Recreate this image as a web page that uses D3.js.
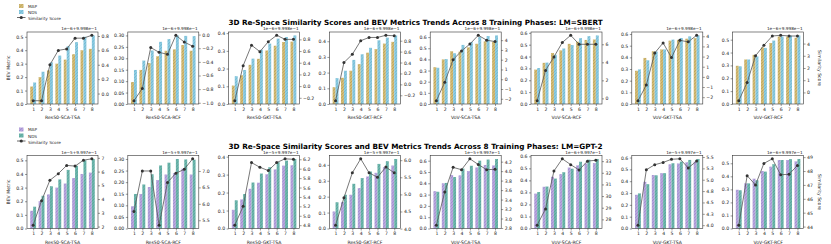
<!DOCTYPE html>
<html>
<head>
<meta charset="utf-8">
<script src="https://cdn.jsdelivr.net/npm/d3@7"></script>
<style>
  body { margin: 0; background: #fff; }
  svg { display: block; font-family: "DejaVu Sans", sans-serif; }
</style>
</head>
<body>
<svg id="chart" width="831" height="244"></svg>
<script>
// training phases on the x axis
const phases = [1, 2, 3, 4, 5, 6, 7, 8];
const configs = ["Res50-SCA-TSA", "Res50-SCA-RCF", "Res50-GKT-TSA", "Res50-GKT-RCF",
                 "VoV-SCA-TSA", "VoV-SCA-RCF", "VoV-GKT-TSA", "VoV-GKT-RCF"];

// BEV metrics, one row per config (same for both LMs)
const mapScores = [
  [0.13, 0.20, 0.25, 0.30, 0.33, 0.37, 0.40, 0.41],
  [0.096, 0.149, 0.179, 0.209, 0.233, 0.239, 0.258, 0.233],
  [0.104, 0.162, 0.221, 0.255, 0.302, 0.329, 0.35, 0.352],
  [0.107, 0.167, 0.212, 0.254, 0.327, 0.35, 0.385, 0.396],
  [0.33, 0.40, 0.473, 0.47, 0.508, 0.54, 0.562, 0.558],
  [0.29, 0.347, 0.43, 0.452, 0.507, 0.525, 0.54, 0.544],
  [0.285, 0.395, 0.452, 0.468, 0.543, 0.55, 0.56, 0.565],
  [0.297, 0.346, 0.382, 0.44, 0.474, 0.525, 0.525, 0.515]
];
const ndsScores = [
  [0.16, 0.24, 0.31, 0.36, 0.43, 0.46, 0.50, 0.51],
  [0.149, 0.19, 0.234, 0.272, 0.284, 0.30, 0.298, 0.297],
  [0.157, 0.192, 0.256, 0.306, 0.341, 0.369, 0.378, 0.387],
  [0.165, 0.212, 0.281, 0.317, 0.358, 0.406, 0.423, 0.437],
  [0.325, 0.403, 0.455, 0.53, 0.555, 0.60, 0.61, 0.615],
  [0.303, 0.349, 0.415, 0.468, 0.497, 0.555, 0.572, 0.578],
  [0.297, 0.375, 0.45, 0.468, 0.552, 0.566, 0.58, 0.588],
  [0.293, 0.346, 0.37, 0.436, 0.493, 0.525, 0.532, 0.533]
];

// similarity scores, shown relative to the axis offset
const simSbert = [
  [-0.10, -0.10, 0.40, 0.60, 0.62, 0.77, 0.77, 0.81],
  [-0.97, -0.79, -0.19, -0.26, -0.29, -0.01, -0.11, -0.17],
  [-0.25, 0.35, 0.70, 0.59, 0.76, 0.87, 0.80, 0.80],
  [-0.30, 0.40, 0.55, 0.80, 0.86, 0.86, 0.90, 0.89],
  [-2.2, -0.3, 2.0, 2.9, 3.6, 4.5, 4.0, 3.85],
  [-0.26, 3.1, 4.6, 6.2, 7.0, 6.0, 6.0, 6.0],
  [-2.35, -0.8, 2.35, 3.35, 1.9, 3.6, 3.45, 4.1],
  [-0.68, 0.81, 3.0, 3.86, 4.62, 4.68, 4.62, 4.62]
];
const simGpt2 = [
  [2.1, 3.88, 5.37, 5.85, 6.45, 6.4, 6.83, 6.93],
  [5.77, 7.0, 7.0, 5.35, 6.65, 6.93, 7.05, 7.37],
  [4.8, 5.2, 6.13, 6.03, 5.96, 6.13, 6.21, 6.2],
  [4.1, 4.9, 5.63, 6.04, 5.63, 5.5, 5.8, 5.63],
  [2.86, 3.56, 4.08, 4.03, 4.26, 4.14, 4.03, 4.04],
  [27.5, 28.9, 32.15, 33.2, 32.7, 32.24, 33.0, 33.08],
  [4.0, 5.22, 5.33, 5.38, 5.45, 5.46, 5.26, 5.41],
  [44.1, 47.66, 47.0, 48.55, 48.88, 47.73, 47.77, 48.4]
];

// right-axis tick values
const simTicksSbert = [
  [0.0, 0.2, 0.4, 0.6, 0.8],
  [-1.0, -0.8, -0.6, -0.4, -0.2, 0.0],
  [-0.2, 0.0, 0.2, 0.4, 0.6, 0.8],
  [-0.2, 0.0, 0.2, 0.4, 0.6, 0.8],
  [-2, -1, 0, 1, 2, 3, 4],
  [0, 2, 4, 6],
  [-2, -1, 0, 1, 2, 3, 4],
  [0, 1, 2, 3, 4]
];
const simTicksGpt2 = [
  [2, 3, 4, 5, 6, 7],
  [5.5, 6.0, 6.5, 7.0],
  [4.8, 5.0, 5.2, 5.4, 5.6, 5.8, 6.0, 6.2],
  [4.0, 4.5, 5.0, 5.5, 6.0],
  [2.8, 3.0, 3.2, 3.4, 3.6, 3.8, 4.0, 4.2],
  [28, 29, 30, 31, 32, 33],
  [4.00, 4.25, 4.50, 4.75, 5.00, 5.25, 5.50],
  [44, 45, 46, 47, 48, 49]
];
const offsetsSbert = ["1e−6+9.998e−1", "1e−6+9.998e−1", "1e−6+9.998e−1", "1e−6+9.998e−1",
                      "1e−6+9.998e−1", "1e−6+9.998e−1", "1e−6+9.998e−1", "1e−6+9.998e−1"];
const offsetsGpt2 = ["1e−5+9.997e−1", "1e−5+9.997e−1", "1e−5+9.997e−1", "1e−5+9.997e−1",
                     "1e−5+9.997e−1", "1e−6+9.997e−1", "1e−5+9.997e−1", "1e−6+9.997e−1"];

const svg = d3.select("#chart");
const defs = svg.append("defs");

function hatch(id, bg, fg) {
  const p = defs.append("pattern")
    .attr("id", id)
    .attr("patternUnits", "userSpaceOnUse")
    .attr("width", 2.2).attr("height", 2.2)
    .attr("patternTransform", "rotate(45)");
  p.append("rect").attr("width", 2.2).attr("height", 2.2).attr("fill", bg);
  p.append("line").attr("x1", 0.5).attr("y1", 0).attr("x2", 0.5).attr("y2", 2.2)
    .attr("stroke", fg).attr("stroke-width", 0.5);
}

const rows = [
  { lm: "SBERT", sim: simSbert, ticks: simTicksSbert, offsets: offsetsSbert,
    top: 32, height: 72, mapColor: ["#d8c078", "#a88f48"], ndsColor: ["#8fcde3", "#5ea9c4"] },
  { lm: "GPT-2", sim: simGpt2, ticks: simTicksGpt2, offsets: offsetsGpt2,
    top: 155.5, height: 73, mapColor: ["#bba9e0", "#8f7bc0"], ndsColor: ["#6fb8ae", "#4a968c"] }
];

const panelW = 71;
const barW = 0.35;
const fs = 4.6;

rows.forEach((row, r) => {
  hatch("map" + r, row.mapColor[0], row.mapColor[1]);
  hatch("nds" + r, row.ndsColor[0], row.ndsColor[1]);

  // title
  const title = svg.append("text")
    .attr("x", 415.5).attr("y", row.top - 7)
    .attr("text-anchor", "middle")
    .attr("font-weight", "bold")
    .attr("font-size", 9)
    .text(`3D Re-Space Similarity Scores and BEV Metrics Trends Across 8 Training Phases: LM=${row.lm}`);
  const tw = title.node().getComputedTextLength();
  title.attr("font-size", 9 * 375 / tw);

  // legend
  const lg = svg.append("g").attr("transform", `translate(19,${row.top - 28})`);
  lg.append("rect").attr("x", 0).attr("y", 0).attr("width", 4.5).attr("height", 4)
    .attr("fill", `url(#map${r})`);
  lg.append("rect").attr("x", 0).attr("y", 6).attr("width", 4.5).attr("height", 4)
    .attr("fill", `url(#nds${r})`);
  lg.append("line").attr("x1", -2).attr("x2", 6.5).attr("y1", 13.5).attr("y2", 13.5)
    .attr("stroke", "#444").attr("stroke-width", 0.8);
  lg.append("circle").attr("cx", 2.25).attr("cy", 13.5).attr("r", 1.6).attr("fill", "#333");
  ["MAP", "NDS", "Similarity Score"].forEach((t, i) => {
    lg.append("text").attr("x", 9).attr("y", 3.6 + i * 6.4)
      .attr("font-size", 4.2).attr("fill", "#222").text(t);
  });

  configs.forEach((name, i) => {
    const left = 27 + i * 100.8;
    const top = row.top, bottom = row.top + row.height;
    const g = svg.append("g");

    const x = d3.scaleLinear().domain([0.265, 8.735]).range([left, left + panelW]);
    const yMax = d3.max(mapScores[i].concat(ndsScores[i])) * 1.05;
    const yL = d3.scaleLinear().domain([0, yMax]).range([bottom, top]);
    const [sMin, sMax] = d3.extent(row.sim[i]);
    const pad = (sMax - sMin) * 0.05;
    const yR = d3.scaleLinear().domain([sMin - pad, sMax + pad]).range([bottom, top]);

    // bars
    g.selectAll(".map").data(phases).join("rect")
      .attr("x", d => x(d - barW))
      .attr("width", x(barW) - x(0))
      .attr("y", (d, j) => yL(mapScores[i][j]))
      .attr("height", (d, j) => bottom - yL(mapScores[i][j]))
      .attr("fill", `url(#map${r})`);
    g.selectAll(".nds").data(phases).join("rect")
      .attr("x", d => x(d))
      .attr("width", x(barW) - x(0))
      .attr("y", (d, j) => yL(ndsScores[i][j]))
      .attr("height", (d, j) => bottom - yL(ndsScores[i][j]))
      .attr("fill", `url(#nds${r})`);

    // similarity line
    const line = d3.line().x(d => x(d[0])).y(d => yR(d[1]));
    const pts = phases.map((p, j) => [p, row.sim[i][j]]);
    g.append("path").datum(pts).attr("d", line)
      .attr("fill", "none").attr("stroke", "#555").attr("stroke-width", 0.8);
    g.selectAll("circle").data(pts).join("circle")
      .attr("cx", d => x(d[0])).attr("cy", d => yR(d[1]))
      .attr("r", 1.5).attr("fill", "#333");

    // frame
    g.append("rect").attr("x", left).attr("y", top).attr("width", panelW).attr("height", row.height)
      .attr("fill", "none").attr("stroke", "#333").attr("stroke-width", 0.6);

    // axes
    const lt = yL.ticks(5);
    const axL = g.append("g").attr("transform", `translate(${left},0)`)
      .call(d3.axisLeft(yL).tickValues(lt)
        .tickFormat(d3.format(`.${d3.precisionFixed(lt[1] - lt[0])}f`))
        .tickSize(2).tickPadding(1.5));
    const rt = row.ticks[i];
    const axR = g.append("g").attr("transform", `translate(${left + panelW},0)`)
      .call(d3.axisRight(yR).tickValues(rt)
        .tickFormat(d3.format(`.${d3.precisionFixed(rt[1] - rt[0])}f`))
        .tickSize(2).tickPadding(1.5));
    const axB = g.append("g").attr("transform", `translate(0,${bottom})`)
      .call(d3.axisBottom(x).tickValues(phases).tickFormat(d3.format("d"))
        .tickSize(2).tickPadding(1.5));
    [axL, axR, axB].forEach(a => {
      a.select(".domain").remove();
      a.selectAll("line").attr("stroke", "#333").attr("stroke-width", 0.5);
      a.selectAll("text").attr("font-size", fs).attr("fill", "#222")
        .attr("font-family", "DejaVu Sans, sans-serif");
    });

    // x label
    g.append("text").attr("x", left + panelW / 2).attr("y", bottom + 15)
      .attr("text-anchor", "middle").attr("font-size", fs).attr("fill", "#222")
      .text(name);

    // offset text on the right axis
    g.append("text").attr("x", left + panelW - 1).attr("y", top - 1.8)
      .attr("text-anchor", "end").attr("font-size", 4.2).attr("fill", "#222")
      .text(row.offsets[i]);

    if (i === 0) {
      g.append("text")
        .attr("transform", `translate(${left - 17},${(top + bottom) / 2}) rotate(-90)`)
        .attr("text-anchor", "middle").attr("font-size", fs).attr("fill", "#222")
        .text("BEV Metric");
    }
    if (i === configs.length - 1) {
      g.append("text")
        .attr("transform", `translate(${left + panelW + 14},${(top + bottom) / 2}) rotate(90)`)
        .attr("text-anchor", "middle").attr("font-size", fs).attr("fill", "#222")
        .text("Similarity Score");
    }
  });
});
</script>
</body>
</html>
